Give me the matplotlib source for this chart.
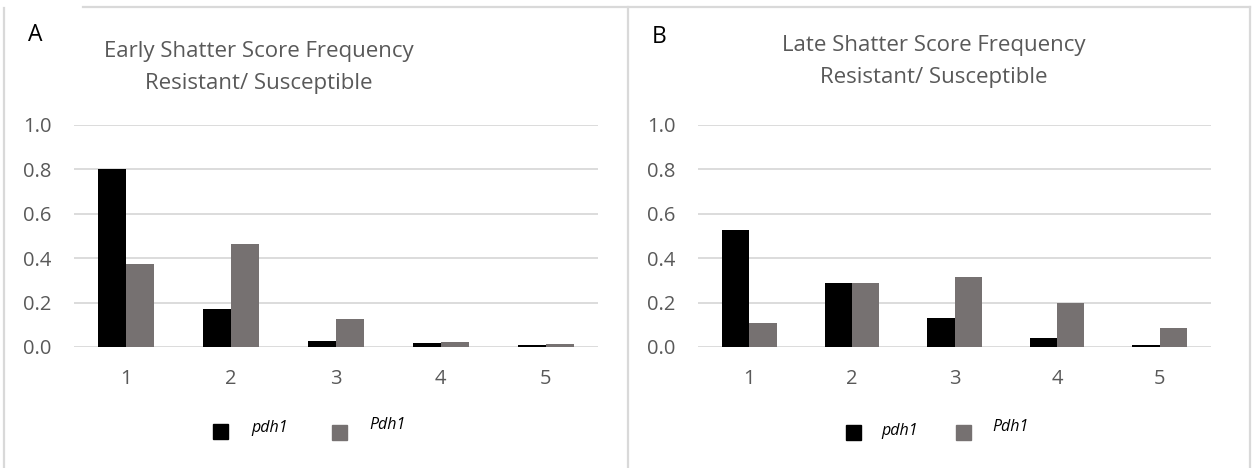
import matplotlib
matplotlib.use("Agg")
import matplotlib.pyplot as plt
import numpy as np
from matplotlib.lines import Line2D
from matplotlib.patches import Rectangle

# Shatter score categories and frequencies per genotype
scores = [1, 2, 3, 4, 5]
early_pdh1_mut = [0.80, 0.17, 0.026, 0.018, 0.008]
early_Pdh1_wt = [0.375, 0.465, 0.125, 0.022, 0.013]
late_pdh1_mut = [0.525, 0.289, 0.13, 0.039, 0.008]
late_Pdh1_wt = [0.107, 0.289, 0.316, 0.197, 0.087]
y_ticks = [0.0, 0.2, 0.4, 0.6, 0.8, 1.0]
series_names = ["pdh1", "Pdh1"]

W, H = 1252, 468
FONT = "Open Sans"
TXT = "#595959"
GRID = "#d9d9d9"
BLACK = "#000000"
GREY = "#767171"

plt.rcParams["font.family"] = [FONT, "DejaVu Sans"]

fig = plt.figure(figsize=(W / 100, H / 100), dpi=100)


def px_axes(x0, x1, ytop, ybot):
    return fig.add_axes([x0 / W, 1 - ybot / H, (x1 - x0) / W, (ybot - ytop) / H])


def panel(ax, mut, wt):
    x = np.array(scores, dtype=float)
    w = 0.267
    ax.bar(x - w / 2, mut, width=w, color=BLACK, zorder=3)
    ax.bar(x + w / 2, wt, width=w, color=GREY, zorder=3)
    ax.set_xlim(0.5, 5.5)
    ax.set_ylim(0, 1.0)
    ax.set_yticks(y_ticks)
    ax.set_yticklabels([f"{v:.1f}" for v in y_ticks])
    ax.set_xticks(scores)
    ax.set_xticklabels([str(s) for s in scores])
    for s in ax.spines.values():
        s.set_visible(False)
    ax.yaxis.grid(True, color=GRID, linewidth=1.3, zorder=0)
    ax.set_axisbelow(True)
    ax.tick_params(length=0, labelsize=14.5, colors=TXT)
    ax.tick_params(axis="y", pad=16)
    ax.tick_params(axis="x", pad=16)
    ax.patch.set_alpha(0)


axA = px_axes(74, 598, 125, 347)
panel(axA, early_pdh1_mut, early_Pdh1_wt)
axB = px_axes(698, 1211, 125, 347)
panel(axB, late_pdh1_mut, late_Pdh1_wt)


def fx(px):
    return px / W


def fy(py):
    return 1 - py / H


# Frame lines around the two panels
for (x0, y0, x1, y1) in [(83, 7, 1250, 7), (4, 8, 4, 468), (627.5, 7, 627.5, 468), (1250, 7, 1250, 468)]:
    fig.add_artist(Line2D([fx(x0), fx(x1)], [fy(y0), fy(y1)], color=GRID, linewidth=1.6))

# Panel letters
fig.text(fx(35.5), fy(35), "A", fontsize=16.5, color="black", ha="center", va="center")
fig.text(fx(659), fy(37), "B", fontsize=16.5, color="black", ha="center", va="center")

# Titles
TS = 16
fig.text(fx(259), fy(51), "Early Shatter Score Frequency", fontsize=TS, color=TXT, ha="center", va="center")
fig.text(fx(259), fy(84), "Resistant/ Susceptible", fontsize=TS, color=TXT, ha="center", va="center")
fig.text(fx(934), fy(45), "Late Shatter Score Frequency", fontsize=TS, color=TXT, ha="center", va="center")
fig.text(fx(934), fy(77), "Resistant/ Susceptible", fontsize=TS, color=TXT, ha="center", va="center")


def legend_item(x_sq, y_sq, color, label, x_txt, y_txt):
    fig.add_artist(Rectangle((fx(x_sq), fy(y_sq + 15)), 15 / W, 15 / H, color=color,
                             transform=fig.transFigure))
    fig.text(fx(x_txt), fy(y_txt), label, fontsize=11.5, style="italic", color="black",
             ha="left", va="center")


legend_item(213, 424, BLACK, series_names[0], 251, 428)
legend_item(332, 425, GREY, series_names[1], 369, 425)
legend_item(846, 425, BLACK, series_names[0], 881, 431)
legend_item(956, 425, GREY, series_names[1], 992, 427)

fig.savefig("out.png", dpi=100)
